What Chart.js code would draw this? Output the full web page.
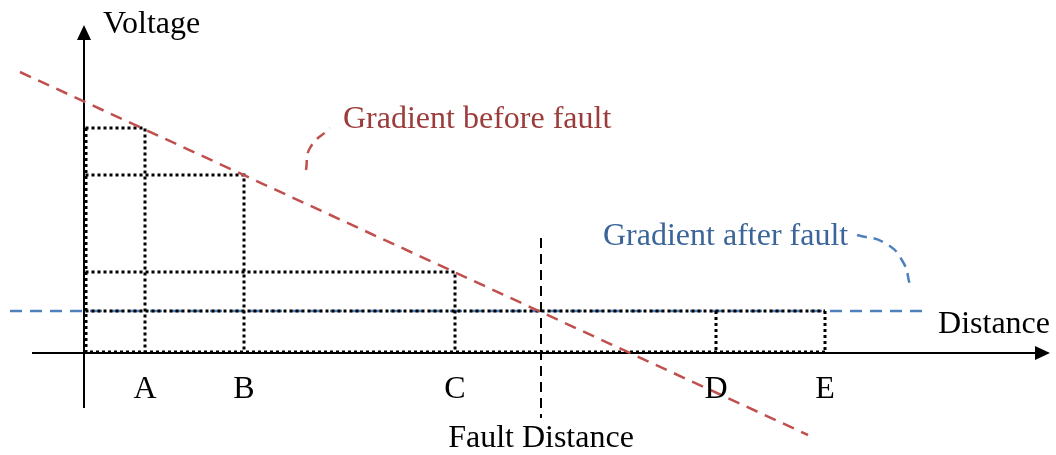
<!DOCTYPE html>
<html>
<head>
<meta charset="utf-8">
<script src="https://cdn.jsdelivr.net/npm/chart.js@4.4.0/dist/chart.umd.min.js"></script>
<style>
  html, body { margin: 0; padding: 0; background: #fff; }
  #wrap { width: 1056px; height: 455px; }
</style>
</head>
<body>
<div id="wrap"><canvas id="chart" width="1056" height="455"></canvas></div>
<script>
// diagram values (distance and voltage in arbitrary units)
const marks = ['A', 'B', 'C', 'D', 'E'];
const markDistance = [6.1, 16.0, 37.1, 63.2, 74.1];
const beforeVoltage = [22.5, 17.8, 8.1];      // at A, B, C
const afterVoltage = 4.2;
const faultDistance = 45.7;

const beforeLineX = [-6.4, 72.4];
const beforeLineY = [28.1, -8.2];
const afterLineX = [-7.4, 84.4];

const beforeCalloutX = [22.2, 22.6, 24.6];
const beforeCalloutY = [18.3, 20.5, 22.5];
const afterCalloutX = [77.3, 80.1, 81.9, 82.6];
const afterCalloutY = [11.8, 11.0, 9.1, 6.8];

const RED = '#c0504d';
const BLUE = '#4f81bd';
const FONT = '32px "Liberation Serif", "Times New Roman", serif';

const pts = (xs, ys) => xs.map((x, i) => ({ x: x, y: ys[i] }));

const dotted = (data) => ({
  data: data,
  showLine: true,
  borderColor: '#000',
  borderWidth: 3,
  borderDash: [3, 3],
  pointRadius: 0,
  order: 3
});

const datasets = [];

// guide rectangles for A, B, C
beforeVoltage.forEach((v, i) => {
  datasets.push(dotted([{ x: 0.15, y: v }, { x: markDistance[i], y: v }, { x: markDistance[i], y: 0 }]));
});
// after-fault level and D, E
datasets.push(dotted([{ x: 0.15, y: afterVoltage }, { x: markDistance[4], y: afterVoltage }]));
datasets.push(dotted([{ x: markDistance[3], y: afterVoltage }, { x: markDistance[3], y: 0 }]));
datasets.push(dotted([{ x: markDistance[4], y: afterVoltage }, { x: markDistance[4], y: 0 }]));
datasets.push(dotted([{ x: 0, y: 0.1 }, { x: markDistance[4], y: 0.1 }]));
datasets.push(dotted([{ x: 0.2, y: 0 }, { x: 0.2, y: beforeVoltage[0] }]));

// axes
datasets.push({
  data: [{ x: 0, y: -5.5 }, { x: 0, y: 31.5 }],
  showLine: true, borderColor: '#000', borderWidth: 2, pointRadius: 0, order: 5
});
datasets.push({
  data: [{ x: -5.2, y: 0 }, { x: 95.5, y: 0 }],
  showLine: true, borderColor: '#000', borderWidth: 2, pointRadius: 0, order: 5
});

// fault distance marker
datasets.push({
  data: [{ x: faultDistance, y: 11.5 }, { x: faultDistance, y: -6.5 }],
  showLine: true, borderColor: '#000', borderWidth: 2, borderDash: [10, 6], pointRadius: 0, order: 4
});

// gradients
datasets.push({
  data: pts(afterLineX, [afterVoltage, afterVoltage]),
  showLine: true, borderColor: BLUE, borderWidth: 2.5, borderDash: [12, 8], pointRadius: 0, order: 6
});
datasets.push({
  data: pts(beforeLineX, beforeLineY),
  showLine: true, borderColor: RED, borderWidth: 2.5, borderDash: [12, 8], pointRadius: 0, order: 1
});

// callouts
datasets.push({
  data: pts(beforeCalloutX, beforeCalloutY),
  showLine: true, borderColor: RED, borderWidth: 2.5, borderDash: [10, 7], tension: 0.5, pointRadius: 0, order: 1
});
datasets.push({
  data: pts(afterCalloutX, afterCalloutY),
  showLine: true, borderColor: BLUE, borderWidth: 2.5, borderDash: [10, 7], tension: 0.5, pointRadius: 0, order: 1
});

const texts = [
  { t: 'Voltage', x: 1.9, y: 32.0, align: 'left', color: '#000' },
  { t: 'Distance', x: 96.6, y: 2.0, align: 'right', color: '#000' },
  { t: 'Gradient before fault', x: 25.9, y: 22.5, align: 'left', color: '#9b3b3a' },
  { t: 'Gradient after fault', x: 51.9, y: 10.8, align: 'left', color: '#3b6598' },
  { t: 'Fault Distance', x: faultDistance, y: -9.4, align: 'center', color: '#000' }
];
marks.forEach((m, i) => texts.push({ t: m, x: markDistance[i], y: -4.5, align: 'center', color: '#000' }));

const decor = {
  id: 'decor',
  afterDatasetsDraw(chart) {
    const { ctx, scales } = chart;
    const X = v => scales.x.getPixelForValue(v);
    const Y = v => scales.y.getPixelForValue(v);
    ctx.save();
    ctx.fillStyle = '#000';
    // y arrow
    let ax = X(0), ay = Y(32.8);
    ctx.beginPath();
    ctx.moveTo(ax, ay); ctx.lineTo(ax - 7, ay + 15); ctx.lineTo(ax + 7, ay + 15); ctx.closePath(); ctx.fill();
    // x arrow
    ax = X(96.6); ay = Y(0);
    ctx.beginPath();
    ctx.moveTo(ax, ay); ctx.lineTo(ax - 15, ay - 7); ctx.lineTo(ax - 15, ay + 7); ctx.closePath(); ctx.fill();
    ctx.font = FONT;
    ctx.textBaseline = 'alphabetic';
    texts.forEach(l => {
      ctx.fillStyle = l.color;
      ctx.textAlign = l.align;
      ctx.fillText(l.t, X(l.x), Y(l.y));
    });
    ctx.restore();
  }
};

new Chart(document.getElementById('chart'), {
  type: 'scatter',
  data: { datasets: datasets },
  options: {
    responsive: false,
    animation: false,
    layout: { padding: 0 },
    plugins: { legend: { display: false }, tooltip: { enabled: false } },
    scales: {
      x: { type: 'linear', display: false, min: -8.4, max: 97.2 },
      y: { type: 'linear', display: false, min: -10.2, max: 35.3 }
    }
  },
  plugins: [decor]
});
</script>
</body>
</html>
